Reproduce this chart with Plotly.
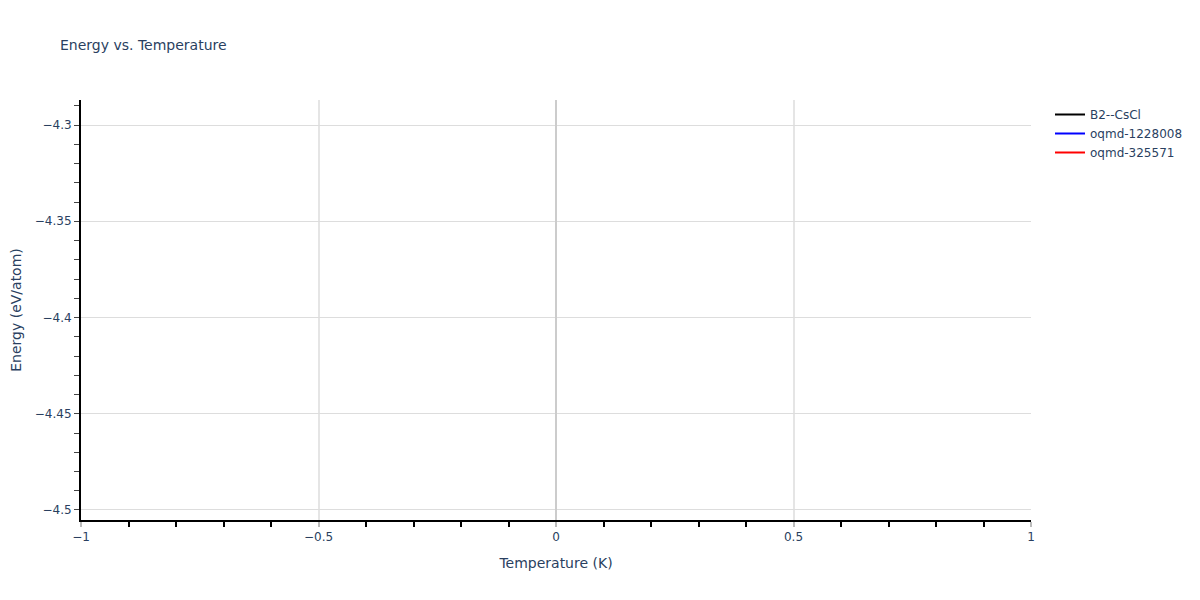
import plotly.graph_objects as go

template_theme = "plotly_white"

# series names / colours; the chart shows no visible points, only legend entries
series_names = ["B2--CsCl", "oqmd-1228008", "oqmd-325571"]
series_colors = ["black", "blue", "red"]
temperature = [None]
energy = {
    "B2--CsCl": [-4.4],
    "oqmd-1228008": [-4.4],
    "oqmd-325571": [-4.4],
}

fig = go.Figure()
for name, color in zip(series_names, series_colors):
    fig.add_trace(go.Scatter(x=temperature, y=energy[name], mode="lines", name=name,
                             line=dict(color=color)))

# page body has an 8px margin, so shift everything up/left by 8px
fig.update_layout(
    template=template_theme,
    width=1200,
    height=600,
    font=dict(family="DejaVu Sans", size=12),
    title=dict(text="Energy vs. Temperature", font=dict(size=14),
               x=52 / 1200, xanchor="left", y=1 - 37 / 600, yanchor="middle"),
    showlegend=True,
    margin=dict(l=73, r=177, t=92, b=88),
)
fig.update_xaxes(
    title_text="Temperature (K)",
    title_font=dict(size=14),
    automargin=False,
    range=[-1, 1],
    dtick=0.5,
    showline=True, linecolor="black", linewidth=2,
    ticks="outside", tickcolor="#bbb", tickwidth=2, ticklen=5,
    showgrid=True, gridcolor="#e5e5e5", gridwidth=2,
    zeroline=True, zerolinecolor="#ccc", zerolinewidth=2,
    minor=dict(ticks="outside", dtick=0.1, tickcolor="black", ticklen=5, showgrid=False),
)
fig.update_yaxes(
    title_text="Energy (eV/atom)",
    title_font=dict(size=14),
    automargin=False,
    range=[-4.5052, -4.287],
    dtick=0.05,
    showline=True, linecolor="black", linewidth=2,
    ticks="outside", tickcolor="#444", ticklen=5,
    showgrid=True, gridcolor="#ddd", gridwidth=1,
    zeroline=False,
    minor=dict(ticks="outside", dtick=0.01, tickcolor="#444", ticklen=5, showgrid=False),
)

fig.write_html("out.html")
